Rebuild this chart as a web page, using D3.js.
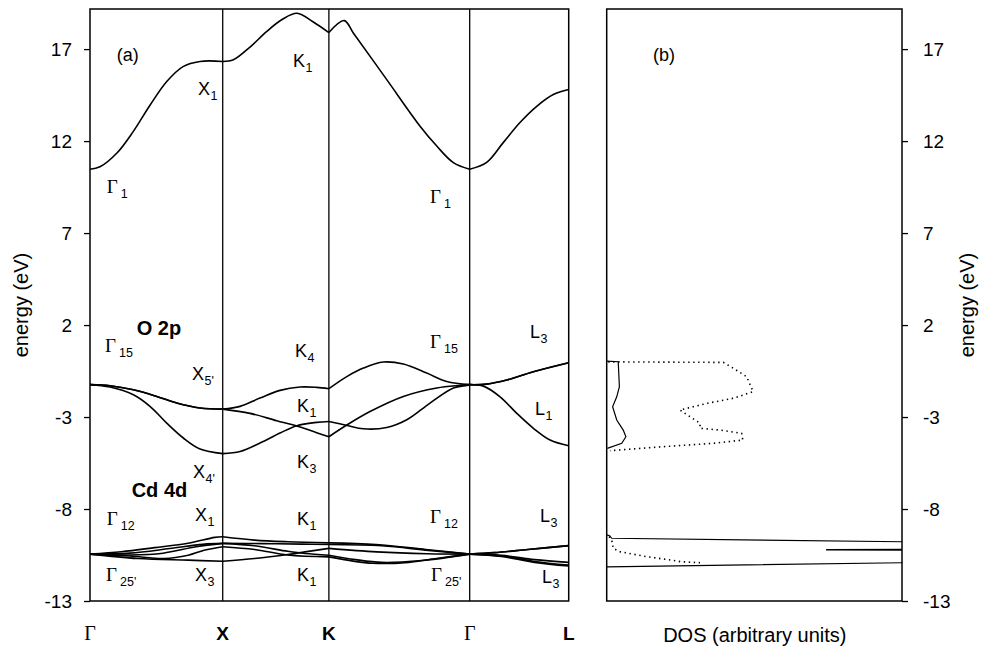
<!DOCTYPE html>
<html>
<head>
<meta charset="utf-8">
<script src="https://cdn.jsdelivr.net/npm/d3@7"></script>
<style>
  html, body { margin: 0; padding: 0; background: #fff; }
</style>
</head>
<body>
<div id="chart-container"></div>
<script>
// =====================
// Data
// =====================
// k-path (symmetry points, in units of the G-X distance)
const K_POINTS = [0, 1, 1.8, 2.861, 3.607];
const K_LABELS = ["Γ", "X", "K", "Γ", "L"];
const E_TICKS = [-13, -8, -3, 2, 7, 12, 17];

// bands: [k, energy eV]
const CB = [
  [0, 10.47], [0.075, 10.6], [0.203, 11.35], [0.324, 12.5], [0.452, 13.95], [0.58, 15.25], [0.701, 16.05], [0.829, 16.33], [1, 16.33],
  [1.08, 16.42], [1.21, 17.14], [1.33, 17.95], [1.45, 18.62], [1.56, 18.95], [1.68, 18.49], [1.8, 17.9],
  [1.916, 18.55], [1.984, 17.88], [2.236, 15.34], [2.487, 12.81], [2.613, 11.73], [2.738, 10.83], [2.861, 10.47],
  [2.989, 10.84], [3.115, 11.93], [3.24, 13.01], [3.366, 13.89], [3.491, 14.53], [3.607, 14.8]
];
const VB_A = [
  [0, -1.24], [0.151, -1.3], [0.327, -1.52], [0.503, -1.88], [0.653, -2.24], [0.829, -2.51], [1, -2.57],
  [1.131, -2.42], [1.281, -1.97], [1.432, -1.55], [1.583, -1.37], [1.708, -1.39], [1.8, -1.46],
  [1.938, -0.79], [2.06, -0.34], [2.211, -0.01], [2.361, -0.12], [2.537, -0.61], [2.688, -1.07], [2.861, -1.24],
  [2.989, -1.21], [3.14, -0.99], [3.341, -0.54], [3.607, -0.05]
];
const VB_B = [
  [0, -1.24], [0.151, -1.3], [0.327, -1.52], [0.503, -1.88], [0.653, -2.24], [0.829, -2.51], [1, -2.57],
  [1.206, -2.8], [1.407, -3.2], [1.558, -3.49], [1.708, -3.85], [1.8, -4.07],
  [1.938, -3.42], [2.11, -2.7], [2.361, -1.88], [2.613, -1.42], [2.788, -1.28], [2.861, -1.24],
  [2.989, -1.21], [3.14, -0.99], [3.341, -0.54], [3.607, -0.05]
];
const VB_C = [
  [0, -1.24], [0.151, -1.37], [0.327, -1.79], [0.452, -2.42], [0.578, -3.33], [0.703, -4.14], [0.829, -4.74], [1, -4.99],
  [1.131, -4.87], [1.281, -4.41], [1.432, -3.87], [1.558, -3.47], [1.708, -3.29], [1.8, -3.24],
  [1.938, -3.46], [2.06, -3.64], [2.236, -3.57], [2.387, -3.15], [2.562, -2.24], [2.738, -1.42], [2.839, -1.28], [2.861, -1.24],
  [2.964, -1.32], [3.09, -1.9], [3.216, -2.8], [3.341, -3.61], [3.467, -4.25], [3.607, -4.56]
];
const D1 = [
  [0, -10.45], [0.236, -10.32], [0.487, -10.1], [0.739, -9.86], [0.94, -9.54], [1, -9.51],
  [1.24, -9.69], [1.49, -9.78], [1.8, -9.84],
  [2.155, -9.93], [2.53, -10.2], [2.861, -10.45],
  [3.05, -10.37], [3.3, -10.2], [3.607, -9.99]
];
const D2 = [
  [0, -10.45], [0.3, -10.4], [0.6, -10.15], [0.85, -9.92], [1, -9.87],
  [1.3, -9.88], [1.6, -9.91], [1.8, -9.93],
  [2.2, -10.0], [2.55, -10.25], [2.861, -10.45],
  [3.05, -10.37], [3.3, -10.2], [3.607, -9.99]
];
const D3 = [
  [0, -10.45], [0.3, -10.55], [0.56, -10.69], [0.74, -10.51], [0.86, -10.24], [1, -10.05],
  [1.24, -10.2], [1.49, -10.5], [1.8, -10.6],
  [2.13, -10.95], [2.4, -10.9], [2.61, -10.69], [2.861, -10.45],
  [3.1, -10.55], [3.35, -10.85], [3.607, -11.05]
];
const D4 = [
  [0, -10.45], [0.36, -10.69], [0.74, -10.78], [1, -10.84],
  [1.24, -10.69], [1.49, -10.47], [1.62, -10.33], [1.8, -10.14],
  [2.16, -10.33], [2.54, -10.43], [2.861, -10.45],
  [3.1, -10.52], [3.35, -10.75], [3.607, -10.9]
];
const D5 = [
  [0, -10.45], [0.3, -10.5], [0.55, -10.4], [0.8, -10.05], [1, -9.87],
  [1.24, -10.0], [1.49, -10.3], [1.62, -10.42], [1.8, -10.51],
  [2.0, -10.75], [2.2, -10.9], [2.5, -10.8], [2.861, -10.45],
  [3.1, -10.58], [3.35, -10.9], [3.607, -11.1]
];
const BANDS = [CB, VB_A, VB_B, VB_C, D1, D2, D3, D4, D5];

// DOS: [dos (arb.), energy eV]
const DOS_SOLID_P = [
  [0, 0.04], [3.9, 0.005], [4.3, -1.35], [3.4, -1.9], [2.0, -2.44], [3.4, -3.16], [5.6, -3.71], [6.5, -4.07], [5.1, -4.43], [0.2, -4.7]
];
const DOS_DOT_P = [
  [0.5, 0.0], [39.5, -0.03], [42.9, -0.35], [47.4, -0.81], [49.6, -1.62], [42.9, -1.98], [33.9, -2.26], [24.8, -2.62],
  [28.2, -2.98], [31.6, -3.34], [31.6, -3.61], [38.4, -3.71], [45.7, -3.89], [46.1, -4.25], [36.1, -4.43], [19.2, -4.61], [1.1, -4.83]
];
const DOS_SOLID_D = [
  [0, -9.41], [1, -9.45], [1.7, -9.59], [100, -9.78], [130, -9.83], [130, -10.18], [74.5, -10.2], [74.5, -10.22],
  [130, -10.24], [130, -10.85], [100, -10.92], [0, -11.14]
];
const DOS_DOT_D = [
  [0.8, -9.5], [1.7, -9.68], [2.2, -10.14], [4.5, -10.32], [13.6, -10.59], [21.5, -10.77], [24.9, -10.86], [31.6, -10.92]
];

// point labels: [letter, subscript, k, energy]
const BAND_LABELS = [
  ["Γ", "1", 0.126, 9.16], ["X", "1", 0.814, 14.5], ["K", "1", 1.53, 16.02], ["Γ", "1", 2.562, 8.63],
  ["Γ", "15", 0.113, 0.53], ["X", "5'", 0.769, -0.99], ["K", "4", 1.545, 0.26], ["K", "1", 1.56, -2.73],
  ["K", "3", 1.56, -5.77], ["X", "4'", 0.776, -6.32], ["Γ", "15", 2.562, 0.75], ["L", "3", 3.316, 1.29],
  ["L", "1", 3.353, -2.89], ["Γ", "12", 0.126, -8.87], ["X", "1", 0.791, -8.65], ["K", "1", 1.56, -8.87],
  ["Γ", "25'", 0.121, -11.91], ["X", "3", 0.791, -11.91], ["K", "1", 1.56, -11.91], ["Γ", "12", 2.562, -8.76],
  ["L", "3", 3.391, -8.71], ["Γ", "25'", 2.57, -11.91], ["L", "3", 3.406, -12.02]
];
const GROUP_LABELS = [["O 2p", 0.352, 1.46], ["Cd 4d", 0.314, -7.33]];

// =====================
// SVG setup
// =====================
const svgWidth = 982;
const svgHeight = 649;
const SANS = "'Liberation Sans', Arial, sans-serif";
const SERIF = "'Liberation Serif', 'Times New Roman', serif";

const plotTop = 9, plotBottom = 601;
const bandLeft = 90, bandRight = 568.7;
const dosLeft = 606.7, dosRight = 902;

const svg = d3.select("#chart-container").append("svg")
  .attr("width", svgWidth)
  .attr("height", svgHeight)
  .style("font-family", SANS);

const y = d3.scaleLinear().domain([-13, 19.18]).range([plotBottom, plotTop]);
const xK = d3.scaleLinear().domain([0, 3.607]).range([bandLeft, bandRight]);
const xD = d3.scaleLinear().domain([0, 100]).range([dosLeft, dosRight]);

// plain hyphen for negatives, like the original figure
const tickFmt = d => String(d);

// =====================
// Band panel
// =====================
const bandLine = d3.line()
  .x(d => xK(d[0]))
  .y(d => y(d[1]))
  .curve(d3.curveCatmullRom.alpha(0.5));

// split every band at the symmetry points so kinks stay sharp
const segs = [];
BANDS.forEach(b => {
  for (let i = 0; i < K_POINTS.length - 1; i++) {
    const pts = b.filter(p => p[0] >= K_POINTS[i] - 1e-6 && p[0] <= K_POINTS[i + 1] + 1e-6);
    if (pts.length > 1) segs.push(pts);
  }
});

svg.append("g").selectAll("path")
  .data(segs)
  .join("path")
  .attr("d", bandLine)
  .attr("fill", "none")
  .attr("stroke", "#000")
  .attr("stroke-width", 1.6);

// vertical lines at symmetry points
svg.append("g").selectAll("line")
  .data(K_POINTS.slice(1, -1))
  .join("line")
  .attr("x1", d => xK(d)).attr("x2", d => xK(d))
  .attr("y1", plotTop).attr("y2", plotBottom)
  .attr("stroke", "#000")
  .attr("stroke-width", 1.3);

svg.append("rect")
  .attr("x", bandLeft).attr("y", plotTop)
  .attr("width", bandRight - bandLeft).attr("height", plotBottom - plotTop)
  .attr("fill", "none").attr("stroke", "#000").attr("stroke-width", 1.5);

// left axis
const yAxisL = svg.append("g")
  .attr("transform", `translate(${bandLeft},0)`)
  .call(d3.axisLeft(y).tickValues(E_TICKS).tickFormat(tickFmt).tickSize(6).tickPadding(12));
yAxisL.select(".domain").remove();
yAxisL.selectAll("line").attr("stroke-width", 1.3);
yAxisL.selectAll("text").attr("font-size", 19).attr("font-family", SANS).attr("fill", "#000");

// k labels
svg.append("g").selectAll("text")
  .data(K_POINTS)
  .join("text")
  .attr("x", d => xK(d))
  .attr("y", 640)
  .attr("text-anchor", "middle")
  .attr("font-family", (d, i) => K_LABELS[i] === "Γ" ? SERIF : SANS)
  .attr("font-weight", (d, i) => K_LABELS[i] === "Γ" ? 400 : 700)
  .attr("font-size", (d, i) => K_LABELS[i] === "Γ" ? 20 : 19)
  .text((d, i) => K_LABELS[i]);

// point labels
const lab = svg.append("g").selectAll("text")
  .data(BAND_LABELS)
  .join("text")
  .attr("x", d => xK(d[2]))
  .attr("y", d => y(d[3]));
lab.append("tspan")
  .attr("font-family", d => d[0] === "Γ" ? SERIF : SANS)
  .attr("font-size", d => d[0] === "Γ" ? 19 : 18)
  .text(d => d[0]);
lab.append("tspan")
  .attr("dx", d => d[0] === "Γ" ? 3 : 0.5)
  .attr("dy", 5)
  .attr("font-family", SANS)
  .attr("font-size", 12.5)
  .text(d => d[1]);

svg.append("g").selectAll("text")
  .data(GROUP_LABELS)
  .join("text")
  .attr("x", d => xK(d[1]))
  .attr("y", d => y(d[2]))
  .attr("font-size", 20)
  .attr("font-weight", 700)
  .text(d => d[0]);

svg.append("text")
  .attr("x", xK(0.201)).attr("y", y(16.34))
  .attr("font-size", 18)
  .text("(a)");

svg.append("text")
  .attr("transform", `translate(28,${(plotTop + plotBottom) / 2}) rotate(-90)`)
  .attr("text-anchor", "middle")
  .attr("font-size", 20)
  .text("energy (eV)");

// =====================
// DOS panel
// =====================
svg.append("clipPath").attr("id", "dosclip")
  .append("rect")
  .attr("x", dosLeft).attr("y", plotTop)
  .attr("width", dosRight - dosLeft).attr("height", plotBottom - plotTop);

const dosLine = d3.line()
  .x(d => xD(d[0]))
  .y(d => y(d[1]));

const dosG = svg.append("g").attr("clip-path", "url(#dosclip)");

dosG.selectAll("path.solid")
  .data([DOS_SOLID_P, DOS_SOLID_D])
  .join("path")
  .attr("class", "solid")
  .attr("d", dosLine)
  .attr("fill", "none")
  .attr("stroke", "#000")
  .attr("stroke-width", 1.2);

dosG.selectAll("path.dot")
  .data([DOS_DOT_P, DOS_DOT_D])
  .join("path")
  .attr("class", "dot")
  .attr("d", dosLine)
  .attr("fill", "none")
  .attr("stroke", "#000")
  .attr("stroke-width", 1.6)
  .attr("stroke-dasharray", "1.4 3.6");

svg.append("rect")
  .attr("x", dosLeft).attr("y", plotTop)
  .attr("width", dosRight - dosLeft).attr("height", plotBottom - plotTop)
  .attr("fill", "none").attr("stroke", "#000").attr("stroke-width", 1.5);

const yAxisR = svg.append("g")
  .attr("transform", `translate(${dosRight},0)`)
  .call(d3.axisRight(y).tickValues(E_TICKS).tickFormat(tickFmt).tickSize(6).tickPadding(15));
yAxisR.select(".domain").remove();
yAxisR.selectAll("line").attr("stroke-width", 1.3);
yAxisR.selectAll("text").attr("font-size", 19).attr("font-family", SANS).attr("fill", "#000");

svg.append("text")
  .attr("x", xD(15.7)).attr("y", y(16.34))
  .attr("font-size", 18)
  .text("(b)");

svg.append("text")
  .attr("x", (dosLeft + dosRight) / 2 + 0.5)
  .attr("y", 642)
  .attr("text-anchor", "middle")
  .attr("font-size", 20)
  .text("DOS (arbitrary units)");

svg.append("text")
  .attr("transform", `translate(974,${(plotTop + plotBottom) / 2}) rotate(-90)`)
  .attr("text-anchor", "middle")
  .attr("font-size", 20)
  .text("energy (eV)");
</script>
</body>
</html>
